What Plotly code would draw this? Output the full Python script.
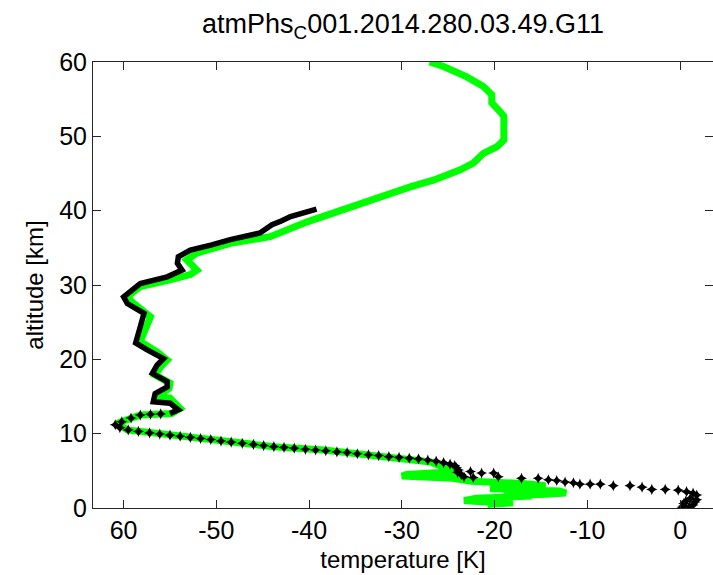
import plotly.graph_objects as go

# ---- data ----
green_temp = [-27.0, -25.5, -23.0, -21.2, -20.3, -20.3, -19.4, -19.0, -19.0, -19.75,
              -21.2, -22.3, -23.7, -26.6, -29.1, -33.0, -36.6, -40.2, -44.2, -48.5,
              -52.1, -53.2, -52.1, -52.8, -55.0, -58.2, -59.6, -58.9, -57.1, -57.7,
              -58.2, -56.4, -55.3, -56.0, -56.6, -55.0, -55.1, -56.4, -55.0, -53.9,
              -54.8, -58.2, -60.7, -59.6, -54.6, -49.2, -43.8, -38.4, -33.0, -29.5,
              -26.9, -25.5, -24.0, -29.5, -30.0, -24.5, -22.5, -17.0, -14.5, -16.5,
              -20.5, -13.0, -12.3, -15.0, -19.0, -16.0, -22.0, -23.3, -21.0, -18.0,
              -20.5, -20.3]
green_alt = [60.0, 59.4, 58.0, 56.7, 55.6, 54.5, 53.3, 52.7, 49.5, 48.6,
             47.7, 46.4, 45.5, 44.1, 43.2, 41.5, 39.9, 38.5, 36.5, 35.6,
             34.3, 33.4, 32.0, 31.4, 30.7, 29.8, 28.4, 27.5, 25.7, 24.0,
             22.4, 21.0, 19.9, 19.0, 17.9, 16.8, 16.1, 15.0, 14.8, 13.4,
             12.7, 12.5, 11.4, 10.5, 9.8, 8.9, 8.25, 7.8, 7.1, 6.7,
             6.2, 5.5, 4.9, 4.5, 4.3, 4.0, 3.6, 3.3, 3.0, 2.8,
             2.6, 2.3, 2.0, 1.8, 1.7, 1.6, 1.3, 1.0, 0.8, 0.7,
             0.5, 0.2]

# black profile, dense part (drawn as a continuous trace)
black_dense_temp = [-39.2, -40.5, -42.0, -43.0, -44.0, -45.3, -46.8, -48.5, -50.5, -52.8,
                    -54.1, -54.2, -53.7, -55.3, -58.2, -60.0, -59.6, -57.8, -58.2, -58.7,
                    -57.5, -55.7, -56.4, -56.9, -55.3, -55.3, -56.6, -56.8, -55.0, -54.1,
                    -55.0]
black_dense_alt = [40.2, 39.7, 39.2, 38.6, 38.1, 37.0, 36.6, 36.1, 35.4, 34.7,
                   33.8, 32.9, 32.0, 31.1, 30.2, 28.4, 27.5, 26.2, 24.4, 22.2,
                   21.3, 20.1, 19.2, 18.1, 17.0, 16.3, 15.4, 14.3, 14.1, 13.2,
                   12.7]

# black profile, sparse part (individual markers)
black_sparse_temp = [-56.0, -57.1, -58.2, -59.2, -60.2, -60.9, -60.4, -59.5, -58.4, -57.2,
                     -56.1, -55.0, -53.9, -52.8, -51.7, -50.6, -49.5, -48.4, -47.2, -46.0,
                     -44.9, -43.8, -42.7, -41.6, -40.4, -39.3, -38.2, -37.0, -35.9, -34.8,
                     -33.6, -32.5, -31.4, -30.3, -29.2, -28.2, -27.2, -26.3, -25.5, -24.8,
                     -24.3, -24.1, -23.9, -24.0, -23.6, -23.3, -22.6, -22.3, -21.4, -20.1,
                     -19.6, -17.1, -15.3, -14.2, -13.3, -12.4, -11.5, -10.8, -9.7, -8.6,
                     -7.2, -5.4, -4.1, -3.05, -1.6, -0.2, 0.7, 1.4, 1.8, 1.1,
                     1.8, 0.6, 1.6, 0.4, 1.4, 0.4, 1.0, 0.2]
black_sparse_alt = [12.65, 12.6, 12.5, 12.1, 11.6, 11.2, 10.8, 10.5, 10.3, 10.1,
                    9.95, 9.8, 9.65, 9.5, 9.35, 9.2, 9.0, 8.85, 8.7, 8.55,
                    8.4, 8.25, 8.15, 8.05, 7.9, 7.8, 7.7, 7.55, 7.45, 7.3,
                    7.15, 7.05, 6.9, 6.8, 6.7, 6.6, 6.45, 6.3, 6.1, 5.9,
                    5.7, 5.4, 5.1, 4.8, 4.5, 4.2, 4.9, 4.1, 4.7, 4.7,
                    4.2, 4.0, 4.0, 3.8, 3.7, 3.5, 3.4, 3.2, 3.2, 3.2,
                    3.0, 3.0, 2.8, 2.5, 2.5, 2.4, 2.2, 2.0, 1.75, 1.3,
                    1.1, 0.9, 0.8, 0.6, 0.4, 0.3, 0.2, 0.1]

x_tick_vals = [-60, -50, -40, -30, -20, -10, 0]
x_tick_text = ["60", "-50", "-40", "-30", "-20", "-10", "0"]
y_tick_vals = [0, 10, 20, 30, 40, 50, 60]

title_text = "atmPhs<sub>C</sub>001.2014.280.03.49.G11"
x_title = "temperature [K]"
y_title = "altitude [km]"

FONT = "Liberation Sans, Arial, sans-serif"

fig = go.Figure()
fig.add_trace(go.Scatter(x=green_temp, y=green_alt, mode="lines",
                         line=dict(color="#00FF00", width=7), showlegend=False))
fig.add_trace(go.Scatter(x=black_dense_temp, y=black_dense_alt, mode="lines",
                         line=dict(color="#000000", width=5.5), showlegend=False))
fig.add_trace(go.Scatter(x=black_sparse_temp, y=black_sparse_alt, mode="markers",
                         marker=dict(symbol="star-diamond", size=8, color="#000000",
                                     line=dict(width=0)), showlegend=False))

axis_common = dict(showgrid=False, zeroline=False, showline=True, linecolor="#262626",
                   linewidth=1, mirror="ticks", ticks="inside", ticklen=8,
                   tickcolor="#262626", automargin=False,
                   tickfont=dict(family=FONT, size=25, color="#000000"))

fig.update_layout(
    width=713, height=575,
    margin=dict(l=93, r=0, t=62, b=67),
    paper_bgcolor="white", plot_bgcolor="white",
    font=dict(family=FONT, color="#000000"),
    title=dict(text=title_text, x=0.5, xref="paper", xanchor="center",
               y=1 - 24 / 575, yref="container", yanchor="middle",
               font=dict(family=FONT, size=27, color="#000000")),
    xaxis=dict(range=[-63.3, 3.55], tickvals=x_tick_vals, ticktext=x_tick_text,
               title=dict(text=x_title, standoff=8,
                          font=dict(family=FONT, size=24, color="#000000")),
               **axis_common),
    yaxis=dict(range=[0, 60], tickvals=y_tick_vals,
               title=dict(text=y_title, standoff=8,
                          font=dict(family=FONT, size=24, color="#000000")),
               **axis_common),
)

fig.write_html("out.html", config={"displayModeBar": False},
               post_script="document.body.style.margin='0px';document.body.style.overflow='hidden';")
